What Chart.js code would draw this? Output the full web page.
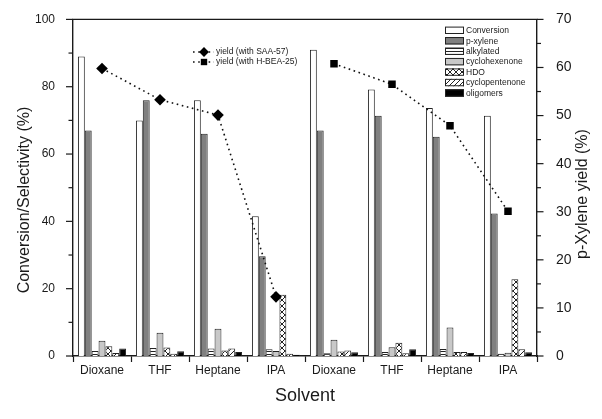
<!DOCTYPE html>
<html><head><meta charset="utf-8">
<script src="https://cdn.jsdelivr.net/npm/chart.js@4/dist/chart.umd.min.js"></script>
<style>html,body{margin:0;padding:0;background:#fff}</style>
</head><body>
<canvas id="c" width="602" height="419" style="display:block;width:602px;height:419px"></canvas>
<script>
const categories = ['Dioxane','THF','Heptane','IPA','Dioxane','THF','Heptane','IPA'];
const conversion = [89, 70, 76, 41.5, 91, 79.2, 73.7, 71.4];
const pXylene = [67, 76, 66, 29.6, 67, 71.4, 65.1, 42.3];
const alkylated = [1.5, 2.4, 2.2, 2.0, 0.8, 1.2, 2.1, 0.7];
const cyclohexenone = [4.5, 6.9, 8.1, 1.5, 4.8, 2.6, 8.5, 1.0];
const hdo = [2.9, 2.5, 1.6, 18.2, 1.3, 3.9, 1.2, 22.8];
const cyclopentenone = [0.9, 0.7, 2.2, 0.7, 1.6, 0.8, 1.2, 2.0];
const oligomers = [2.2, 1.4, 1.2, 0.4, 1.1, 2.0, 0.9, 1.1];
const yieldSAA57 = [59.8, 53.3, 50.1, 12.3, null, null, null, null];
const yieldHBEA25 = [null, null, null, null, 60.8, 56.5, 47.9, 30.1];
const leftAxis = {min: 0, max: 100, minorStep: 10, labelStep: 20};
const rightAxis = {min: 0, max: 70, minorStep: 5, labelStep: 10};
const leftTitle = 'Conversion/Selectivity (%)';
const rightTitle = 'p-Xylene yield (%)';

const FONT = "'Liberation Sans', Arial, sans-serif";
const INK = '#1a1a1a';

function makePattern(kind) {
  const t = document.createElement('canvas');
  const s = kind === 'h' ? 3 : (kind === 'x' ? 6 : 5);
  t.width = kind === 'h' ? 4 : s; t.height = s;
  const g = t.getContext('2d');
  g.fillStyle = '#fff'; g.fillRect(0, 0, t.width, t.height);
  g.strokeStyle = '#222'; g.lineWidth = 1;
  g.beginPath();
  if (kind === 'h') { g.moveTo(0, 0.5); g.lineTo(4, 0.5); }
  else if (kind === 'x') { g.moveTo(0, 0); g.lineTo(s, s); g.moveTo(0, s); g.lineTo(s, 0); }
  else { g.moveTo(0, s); g.lineTo(s, 0); g.moveTo(-1, 1); g.lineTo(1, -1); g.moveTo(s-1, s+1); g.lineTo(s+1, s-1); }
  g.stroke();
  return g.createPattern(t, 'repeat');
}
const patH = makePattern('h'), patX = makePattern('x'), patD = makePattern('d');

function bar(label, data, fill) {
  return {type: 'bar', label, data, backgroundColor: fill, borderColor: '#222', borderWidth: 1,
    yAxisID: 'y', order: 2, categoryPercentage: 0.83, barPercentage: 1};
}
function yline(label, data, style, radius) {
  return {type: 'line', label, data, yAxisID: 'y2', order: 0, borderColor: '#111', borderWidth: 1.6,
    borderDash: [1.6, 3.6], pointStyle: style, pointRadius: radius, pointHoverRadius: radius,
    pointBackgroundColor: '#000', pointBorderColor: '#000', pointBorderWidth: 0, fill: false, spanGaps: false, tension: 0};
}

const barSets = [
  bar('Conversion', conversion, '#ffffff'),
  bar('p-xylene', pXylene, '#808080'),
  bar('alkylated', alkylated, patH),
  bar('cyclohexenone', cyclohexenone, '#c8c8c8'),
  bar('HDO', hdo, patX),
  bar('cyclopentenone', cyclopentenone, patD),
  bar('oligomers', oligomers, '#000000')
];
const lineSets = [
  yline('yield (with SAA-57)', yieldSAA57, 'rectRot', 5.8),
  yline('yield (with H-BEA-25)', yieldHBEA25, 'rect', 5.3)
];

const deco = {
  id: 'deco',
  afterDraw(chart) {
    const c = chart.ctx, a = chart.chartArea;
    const y = chart.scales.y, y2 = chart.scales.y2;
    c.save();
    c.strokeStyle = INK; c.lineWidth = 1.4;
    c.beginPath(); c.moveTo(a.left - 0.7, a.top); c.lineTo(a.right + 0.7, a.top); c.stroke();
    c.lineWidth = 1.2;
    y.ticks.forEach(t => {
      const p = y.getPixelForValue(t.value);
      const len = (t.value % leftAxis.labelStep === 0) ? 7 : 4.5;
      c.beginPath(); c.moveTo(a.left - len, p); c.lineTo(a.left, p); c.stroke();
    });
    y2.ticks.forEach(t => {
      const p = y2.getPixelForValue(t.value);
      const len = (t.value % rightAxis.labelStep === 0) ? 6.5 : 4;
      c.beginPath(); c.moveTo(a.right, p); c.lineTo(a.right + len, p); c.stroke();
    });
    // axis titles (both read bottom-to-top)
    c.fillStyle = INK; c.textAlign = 'center'; c.textBaseline = 'middle';
    c.font = '16px ' + FONT;
    c.save(); c.translate(25, 200); c.rotate(-Math.PI / 2); c.fillText(leftTitle, 0, 0); c.restore();
    c.save(); c.translate(583, 194); c.rotate(-Math.PI / 2); c.fillText(rightTitle, 0, 0); c.restore();
    // line legend
    c.font = '8.5px ' + FONT; c.textAlign = 'left';
    const lx = 193, ly = 52, lg = 10;
    lineSets.forEach((ds, i) => {
      const yy = ly + i * lg;
      c.save(); c.strokeStyle = '#111'; c.lineWidth = 1.6; c.setLineDash([1.6, 3.6]);
      c.beginPath(); c.moveTo(lx, yy); c.lineTo(lx + 21, yy); c.stroke(); c.restore();
      c.fillStyle = '#000';
      Chart.helpers.drawPoint(c, {pointStyle: ds.pointStyle, radius: ds.pointRadius * 0.85, borderWidth: 0}, lx + 11, yy);
      c.fillStyle = INK;
      c.fillText(ds.label, lx + 23, yy);
    });
    // bar legend
    const bx = 445, by = 30.3, bg = 10.45, bw = 19, bh = 7.4;
    barSets.forEach((ds, i) => {
      const yy = by + i * bg;
      c.fillStyle = ds.backgroundColor;
      c.fillRect(bx, yy - bh / 2, bw, bh);
      c.lineWidth = 1; c.strokeStyle = '#222';
      c.strokeRect(bx + 0.5, yy - bh / 2 + 0.5, bw - 1, bh - 1);
      c.fillStyle = INK;
      c.fillText(ds.label, bx + bw + 2, yy + 0.5);
    });
    c.restore();
  }
};

new Chart(document.getElementById('c'), {
  data: {labels: categories, datasets: [...lineSets, ...barSets]},
  options: {
    responsive: false, animation: false,
    layout: {padding: {top: 16, right: 0, bottom: 0, left: 0}},
    plugins: {legend: {display: false}, tooltip: {enabled: false}},
    scales: {
      x: {
        offset: true,
        grid: {display: true, offset: true, drawOnChartArea: false, tickLength: 6, tickColor: INK, tickWidth: 1.2},
        border: {display: true, color: INK, width: 1.4},
        ticks: {font: {family: FONT, size: 12}, color: INK, padding: 1, maxRotation: 0, autoSkip: false},
        title: {display: true, text: 'Solvent', font: {family: FONT, size: 18}, color: INK, padding: {top: 0, bottom: 12}},
        afterFit: s => { s.height = 63; }
      },
      y: {
        position: 'left', min: leftAxis.min, max: leftAxis.max,
        grid: {display: false},
        border: {display: true, color: INK, width: 1.4},
        ticks: {stepSize: leftAxis.minorStep, font: {family: FONT, size: 12}, color: INK, padding: 10,
          callback: v => (v % leftAxis.labelStep === 0 ? v : '')},
        afterFit: s => { s.width = 73; }
      },
      y2: {
        position: 'right', min: rightAxis.min, max: rightAxis.max,
        grid: {display: false},
        border: {display: true, color: INK, width: 1.4},
        ticks: {stepSize: rightAxis.minorStep, font: {family: FONT, size: 14}, color: INK, padding: 11,
          callback: v => (v % rightAxis.labelStep === 0 ? v : '')},
        afterFit: s => { s.width = 65; }
      }
    }
  },
  plugins: [deco]
});
</script>
</body></html>
